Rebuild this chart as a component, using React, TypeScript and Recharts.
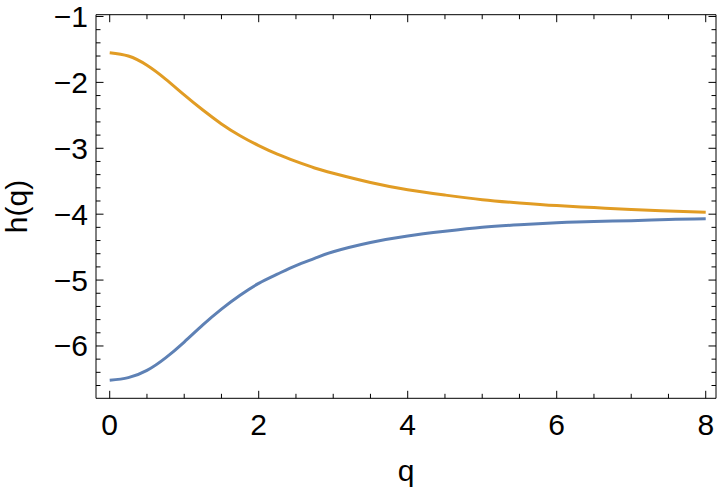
import React from 'react';
import { LineChart, Line, XAxis, YAxis } from 'recharts';

const qValues = [0, 0.25, 0.5, 0.75, 1, 1.25, 1.5, 1.75, 2, 2.25, 2.5, 2.75, 3, 3.5, 4, 4.5, 5, 5.5, 6, 6.5, 7, 7.5, 8];
const hUpper = [-1.55, -1.6, -1.74, -1.95, -2.19, -2.42, -2.63, -2.81, -2.96, -3.09, -3.2, -3.3, -3.38, -3.52, -3.63, -3.71, -3.78, -3.83, -3.87, -3.9, -3.93, -3.95, -3.97];
const hLower = [-6.52, -6.48, -6.37, -6.18, -5.94, -5.68, -5.44, -5.23, -5.05, -4.91, -4.78, -4.67, -4.57, -4.43, -4.33, -4.26, -4.2, -4.16, -4.13, -4.11, -4.1, -4.08, -4.07];

const xTickValues = [0, 0.5, 1, 1.5, 2, 2.5, 3, 3.5, 4, 4.5, 5, 5.5, 6, 6.5, 7, 7.5, 8];
const xMajorTicks = [0, 2, 4, 6, 8];
const yTickValues = [-6.6, -6.4, -6.2, -6, -5.8, -5.6, -5.4, -5.2, -5, -4.8, -4.6, -4.4, -4.2, -4, -3.8, -3.6, -3.4, -3.2, -3, -2.8, -2.6, -2.4, -2.2, -2, -1.8, -1.6, -1.4, -1.2, -1];
const yMajorTicks = [-6, -5, -4, -3, -2, -1];

const xDomain: [number, number] = [-0.184, 8.138];
const yDomain: [number, number] = [-6.794, -0.973];

const data = qValues.map((q, i) => ({ q, upper: hUpper[i], lower: hLower[i] }));

const FONT = '"Liberation Sans", Arial, Helvetica, sans-serif';
const MAJOR = 7.5;
const MINOR = 4.5;

const fmt = (v: number) => (v < 0 ? '\u2212' + Math.abs(v) : String(v));

function BottomTick(props: any) {
  const { x, y, payload } = props;
  const v = payload.value;
  const major = xMajorTicks.includes(v);
  return (
    <g>
      <line x1={x} x2={x} y1={y} y2={y - (major ? MAJOR : MINOR)} stroke="#000" strokeWidth={1} />
      {major && (
        <text x={x} y={y + 37} textAnchor="middle" fontSize={30} fontFamily={FONT} fill="#000">
          {fmt(v)}
        </text>
      )}
    </g>
  );
}

function TopTick(props: any) {
  const { x, y, payload } = props;
  const major = xMajorTicks.includes(payload.value);
  return <line x1={x} x2={x} y1={y} y2={y + (major ? MAJOR : MINOR)} stroke="#000" strokeWidth={1} />;
}

function LeftTick(props: any) {
  const { x, y, payload } = props;
  const v = payload.value;
  const major = yMajorTicks.includes(v);
  return (
    <g>
      <line x1={x} x2={x + (major ? MAJOR : MINOR)} y1={y} y2={y} stroke="#000" strokeWidth={1} />
      {major && (
        <text x={x - 8} y={y + 10.5} textAnchor="end" fontSize={30} fontFamily={FONT} fill="#000">
          {fmt(v)}
        </text>
      )}
    </g>
  );
}

function RightTick(props: any) {
  const { x, y, payload } = props;
  const major = yMajorTicks.includes(payload.value);
  return <line x1={x} x2={x - (major ? MAJOR : MINOR)} y1={y} y2={y} stroke="#000" strokeWidth={1} />;
}

export default function App() {
  return (
    <div style={{ position: 'absolute', left: 0, top: 0, width: 720, height: 494, background: '#fff' }}>
      <LineChart
        width={720}
        height={494}
        data={data}
        margin={{ top: 13.7, right: 3, bottom: 94.7, left: 95 }}
      >
        <XAxis
          dataKey="q"
          type="number"
          domain={xDomain}
          allowDataOverflow
          ticks={xTickValues}
          interval={0}
          tickSize={0}
          tickMargin={0}
          tickLine={false}
          height={1}
          axisLine={{ stroke: '#000', strokeWidth: 1 }}
          tick={<BottomTick />}
        />
        <XAxis
          xAxisId="top"
          orientation="top"
          dataKey="q"
          type="number"
          domain={xDomain}
          allowDataOverflow
          ticks={xTickValues}
          interval={0}
          tickSize={0}
          tickMargin={0}
          tickLine={false}
          height={1}
          axisLine={{ stroke: '#000', strokeWidth: 1 }}
          tick={<TopTick />}
        />
        <YAxis
          type="number"
          domain={yDomain}
          allowDataOverflow
          ticks={yTickValues}
          interval={0}
          tickSize={0}
          tickMargin={0}
          tickLine={false}
          width={1}
          axisLine={{ stroke: '#000', strokeWidth: 1 }}
          tick={<LeftTick />}
        />
        <YAxis
          yAxisId="right"
          orientation="right"
          type="number"
          domain={yDomain}
          allowDataOverflow
          ticks={yTickValues}
          interval={0}
          tickSize={0}
          tickMargin={0}
          tickLine={false}
          width={1}
          axisLine={{ stroke: '#000', strokeWidth: 1 }}
          tick={<RightTick />}
        />
        <Line
          dataKey="upper"
          type="natural"
          stroke="#E19C24"
          strokeWidth={3}
          dot={false}
          isAnimationActive={false}
        />
        <Line
          dataKey="lower"
          type="natural"
          stroke="#5E81B5"
          strokeWidth={3}
          dot={false}
          isAnimationActive={false}
        />
        <text x={406} y={481} textAnchor="middle" fontSize={30} fontFamily={FONT} fill="#000">
          q
        </text>
        <text
          x={27}
          y={206.5}
          textAnchor="middle"
          fontSize={30}
          fontFamily={FONT}
          fill="#000"
          transform="rotate(-90 27 206.5)"
        >
          h(q)
        </text>
      </LineChart>
    </div>
  );
}
